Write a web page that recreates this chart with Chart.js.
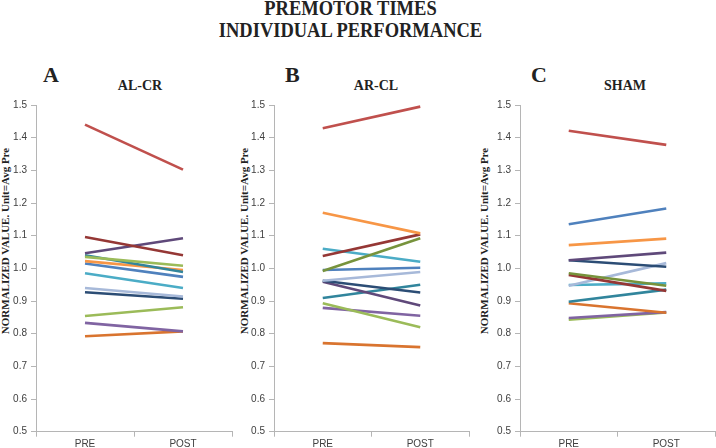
<!DOCTYPE html>
<html>
<head>
<meta charset="utf-8">
<script src="https://cdn.jsdelivr.net/npm/chart.js@4/dist/chart.umd.min.js"></script>
<style>
    body { margin: 0; background: #fff; }
    #page { position: relative; width: 716px; height: 448px; overflow: hidden; background: #fff; }
    .serif { position: absolute; font-family: "Liberation Serif", "Times New Roman", serif; font-weight: bold; color: #222; white-space: nowrap; }
    .main { left: 0; width: 701px; text-align: center; font-size: 21px; line-height: 21px; transform: scaleX(0.88); }
    .letter { font-size: 22px; line-height: 22px; top: 64px; }
    .sub { width: 100px; text-align: center; font-size: 14px; line-height: 14px; top: 79px; }
    .ytitle { width: 300px; height: 12px; text-align: center; font-size: 11px; line-height: 12px; top: 235px; transform: rotate(-90deg); }
    canvas { position: absolute; }
</style>
</head>
<body>
<div id="page">
    <div class="serif main" style="top:-2px">PREMOTOR TIMES</div>
    <div class="serif main" style="top:20px">INDIVIDUAL PERFORMANCE</div>

    <div class="serif letter" style="left:43px">A</div>
    <div class="serif letter" style="left:285px">B</div>
    <div class="serif letter" style="left:531px">C</div>

    <div class="serif sub" style="left:90px">AL-CR</div>
    <div class="serif sub" style="left:326px">AR-CL</div>
    <div class="serif sub" style="left:575px">SHAM</div>

    <div class="serif ytitle" style="left:-145px">NORMALIZED VALUE. Unit=Avg Pre</div>
    <div class="serif ytitle" style="left:94px">NORMALIZED VALUE. Unit=Avg Pre</div>
    <div class="serif ytitle" style="left:334px">NORMALIZED VALUE. Unit=Avg Pre</div>

    <canvas id="chartA" width="240" height="353" style="left:0px;top:95px"></canvas>
    <canvas id="chartB" width="240" height="353" style="left:238px;top:95px"></canvas>
    <canvas id="chartC" width="232" height="353" style="left:484px;top:95px"></canvas>
</div>
<script>
    const categories = ['PRE', 'POST'];
    const yTickValues = [0.5, 0.6, 0.7, 0.8, 0.9, 1.0, 1.1, 1.2, 1.3, 1.4, 1.5];

    // A: AL-CR
    const alcrPre  = [1.440, 1.096, 1.046, 1.035, 1.040, 1.022, 1.015, 0.985, 0.940, 0.927, 0.854, 0.833, 0.792];
    const alcrPost = [1.302, 1.040, 1.092, 1.008, 0.989, 0.995, 0.974, 0.940, 0.914, 0.907, 0.881, 0.807, 0.807];
    const alcrColors = ['#C0504D', '#953735', '#5F497A', '#9BBB59', '#31859C', '#F79646', '#4F81BD', '#4BACC6', '#A7B9D9', '#2C4D75', '#9BBB59', '#8064A2', '#D9742F'];

    // B: AR-CL
    const arclPre  = [1.429, 1.170, 1.038, 0.992, 1.060, 0.995, 0.962, 0.962, 0.959, 0.909, 0.893, 0.879, 0.771];
    const arclPost = [1.495, 1.107, 1.104, 1.092, 1.020, 1.002, 0.989, 0.926, 0.886, 0.950, 0.820, 0.855, 0.759];
    const arclColors = ['#C0504D', '#F79646', '#953735', '#77933C', '#4BACC6', '#4F81BD', '#A7B9D9', '#2C4D75', '#5F497A', '#31859C', '#9BBB59', '#8064A2', '#D9742F'];

    // C: SHAM
    const shamPre  = [1.421, 1.135, 1.071, 1.025, 1.025, 0.985, 0.980, 0.947, 0.949, 0.898, 0.893, 0.848, 0.843];
    const shamPost = [1.378, 1.183, 1.091, 1.048, 1.005, 0.947, 0.931, 1.016, 0.954, 0.935, 0.864, 0.866, 0.865];
    const shamColors = ['#C0504D', '#4F81BD', '#F79646', '#5F497A', '#2C4D75', '#77933C', '#953735', '#A7B9D9', '#4BACC6', '#31859C', '#D9742F', '#8064A2', '#9BBB59'];

    const axisColor = '#b5b5b5';
    const tickFont = { family: '"Liberation Sans", Arial, sans-serif', size: 10 };

    function buildDatasets(pre, post, colors) {
        return pre.map(function (v, i) {
            return {
                data: [v, post[i]],
                borderColor: colors[i],
                borderWidth: 2.6,
                pointRadius: 0,
                fill: false,
                tension: 0
            };
        });
    }

    function drawPanel(id, pre, post, colors, rightPad) {
        const ctx = document.getElementById(id).getContext('2d');
        return new Chart(ctx, {
            type: 'line',
            data: {
                labels: categories,
                datasets: buildDatasets(pre, post, colors)
            },
            options: {
                responsive: false,
                animation: false,
                devicePixelRatio: 1,
                layout: { padding: { top: 8.3, right: rightPad, bottom: 0, left: 0 } },
                plugins: {
                    legend: { display: false },
                    tooltip: { enabled: false },
                    title: { display: false }
                },
                scales: {
                    x: {
                        type: 'category',
                        offset: true,
                        grid: { offset: true, drawOnChartArea: false, drawTicks: true, tickLength: 5, color: axisColor },
                        border: { display: true, color: axisColor },
                        ticks: { color: '#404040', font: tickFont, padding: 2, maxRotation: 0 },
                        afterFit: function (scale) { scale.height = 16.3; }
                    },
                    y: {
                        min: 0.5,
                        max: 1.5,
                        grid: { drawOnChartArea: false, drawTicks: true, tickLength: 5, color: axisColor },
                        border: { display: true, color: axisColor },
                        ticks: {
                            color: '#404040',
                            font: tickFont,
                            padding: 4,
                            callback: function (v) { return Number(v).toFixed(1); }
                        },
                        afterBuildTicks: function (axis) {
                            axis.ticks = yTickValues.map(function (v) { return { value: v }; });
                        },
                        afterFit: function (scale) { scale.width = 36; }
                    }
                }
            }
        });
    }

    drawPanel('chartA', alcrPre, alcrPost, alcrColors, 8);
    drawPanel('chartB', arclPre, arclPost, arclColors, 9);
    drawPanel('chartC', shamPre, shamPost, shamColors, 1);
</script>
</body>
</html>
